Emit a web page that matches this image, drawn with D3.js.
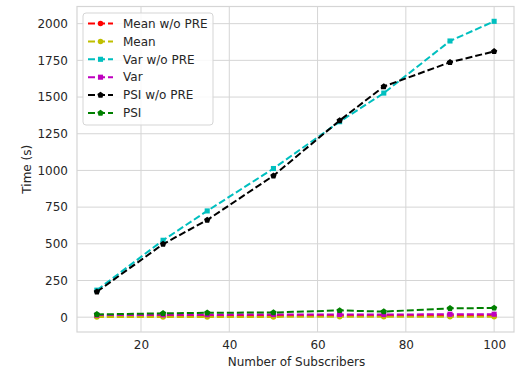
<!DOCTYPE html>
<html><head><meta charset="utf-8">
<script src="https://cdn.jsdelivr.net/npm/d3@7"></script>
<style>body{margin:0;background:#fff;} text{font-family:"DejaVu Sans",sans-serif;}</style>
</head><body><svg id="c" width="520" height="371"></svg>
<script>
const subscribers = [10, 25, 35, 50, 65, 75, 90, 100];
const meanNoPre = [6, 8, 8, 9, 10, 9, 10, 10];
const mean = [2, 2, 2, 2, 3, 3, 3, 3];
const varNoPre = [184, 524, 724, 1013, 1332, 1527, 1882, 2016];
const varPre = [14, 16, 17, 18, 19, 18, 20, 20];
const psiNoPre = [173, 498, 662, 964, 1340, 1572, 1737, 1811];
const psi = [19, 26, 30, 32, 46, 38, 60, 63];
const seriesNames = ["Mean w/o PRE", "Mean", "Var w/o PRE", "Var", "PSI w/o PRE", "PSI"];
const xTicks = [20, 40, 60, 80, 100];
const yTicks = [0, 250, 500, 750, 1000, 1250, 1500, 1750, 2000];

const series = [
  {name: seriesNames[0], values: meanNoPre, color: "#ff0000", marker: "circle"},
  {name: seriesNames[1], values: mean, color: "#bfbf00", marker: "circle"},
  {name: seriesNames[2], values: varNoPre, color: "#00bfbf", marker: "square"},
  {name: seriesNames[3], values: varPre, color: "#bf00bf", marker: "square"},
  {name: seriesNames[4], values: psiNoPre, color: "#000000", marker: "pent"},
  {name: seriesNames[5], values: psi, color: "#008000", marker: "pent"}
];

const L = 77, R = 514, T = 6.5, B = 332;
const x = d3.scaleLinear().domain([5.5, 104.5]).range([L, R]);
const y = d3.scaleLinear().domain([-101, 2117]).range([B, T]);
const svg = d3.select("#c");
const grid = "#d5d5d5";

svg.append("g").selectAll("line").data(xTicks).join("line")
  .attr("x1", d => x(d)).attr("x2", d => x(d)).attr("y1", T).attr("y2", B)
  .attr("stroke", grid).attr("stroke-width", 1);
svg.append("g").selectAll("line").data(yTicks).join("line")
  .attr("y1", d => y(d)).attr("y2", d => y(d)).attr("x1", L).attr("x2", R)
  .attr("stroke", grid).attr("stroke-width", 1);
svg.append("rect").attr("x", L).attr("y", T).attr("width", R - L).attr("height", B - T)
  .attr("fill", "none").attr("stroke", grid).attr("stroke-width", 1.2);

const xAxis = svg.append("g").attr("transform", `translate(0,${B})`)
  .call(d3.axisBottom(x).tickValues(xTicks).tickFormat(d3.format("d")).tickSize(0).tickPadding(8));
const yAxis = svg.append("g").attr("transform", `translate(${L},0)`)
  .call(d3.axisLeft(y).tickValues(yTicks).tickFormat(d3.format("d")).tickSize(0).tickPadding(9));
[xAxis, yAxis].forEach(a => {
  a.select(".domain").remove();
  a.selectAll("text").attr("fill", "#262626").style("font-size", "12px").style("font-family", "DejaVu Sans");
});

svg.append("text").attr("x", (L + R) / 2 + 1).attr("y", 365.5).attr("text-anchor", "middle")
  .attr("fill", "#262626").style("font-size", "12px").text("Number of Subscribers");
svg.append("text").attr("transform", `translate(31,${(T + B) / 2}) rotate(-90)`)
  .attr("text-anchor", "middle").attr("fill", "#262626").style("font-size", "12px").text("Time (s)");

function pent(r) {
  const pts = d3.range(5).map(i => { const a = -Math.PI / 2 + i * 2 * Math.PI / 5; return [r * Math.cos(a), r * Math.sin(a)]; });
  return "M" + pts.map(p => p.join(",")).join("L") + "Z";
}
function markerPath(m) {
  if (m === "circle") return d3.symbol(d3.symbolCircle, 24)();
  if (m === "square") return d3.symbol(d3.symbolSquare, 26)();
  return pent(3.3);
}

const line = d3.line().x((d, i) => x(subscribers[i])).y(d => y(d));
series.forEach(s => {
  const g = svg.append("g");
  g.append("path").attr("d", line(s.values)).attr("fill", "none")
    .attr("stroke", s.color).attr("stroke-width", 2).attr("stroke-dasharray", "7,3");
  g.selectAll("path.m").data(s.values).join("path").attr("class", "m")
    .attr("d", markerPath(s.marker))
    .attr("transform", (d, i) => `translate(${x(subscribers[i])},${y(d)})`)
    .attr("fill", s.color);
});

const lg = svg.append("g");
lg.append("rect").attr("x", 83).attr("y", 13).attr("width", 130).attr("height", 112).attr("rx", 3)
  .attr("fill", "#fff").attr("fill-opacity", 0.85).attr("stroke", "#d5d5d5").attr("stroke-width", 1);
series.forEach((s, i) => {
  const yy = 23.5 + i * 17.9;
  lg.append("line").attr("x1", 88).attr("x2", 113).attr("y1", yy).attr("y2", yy)
    .attr("stroke", s.color).attr("stroke-width", 2).attr("stroke-dasharray", "7,3");
  lg.append("path").attr("d", markerPath(s.marker)).attr("transform", `translate(100.5,${yy})`).attr("fill", s.color);
  lg.append("text").attr("x", 123).attr("y", yy).attr("dy", "0.35em").attr("fill", "#262626")
    .style("font-size", "12px").text(s.name);
});
</script></body></html>
